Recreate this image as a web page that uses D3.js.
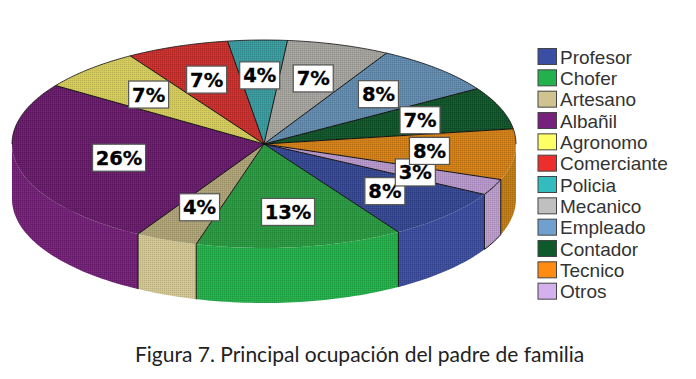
<!DOCTYPE html>
<html>
<head>
<meta charset="utf-8">
<script src="https://cdn.jsdelivr.net/npm/d3@7"></script>
<style>
  html, body { margin: 0; padding: 0; background: #fff; }
  svg { display: block; }
</style>
</head>
<body>
<div id="chart"></div>
<script>
// values, shares of the total
const categories = ["Profesor", "Chofer", "Artesano", "Albañil", "Agronomo", "Comerciante",
  "Policia", "Mecanico", "Empleado", "Contador", "Tecnico", "Otros"];
const shares = [8.0, 13.3, 4.0, 26.2, 6.6, 6.6, 3.8, 6.6, 8.0, 6.6, 7.9, 2.5];
const topColors = ["#33458f", "#27963f", "#ab9f74", "#651a68", "#d2c85a", "#c52d2b",
  "#37989b", "#a3a19b", "#6088ab", "#0f5228", "#cf7d14", "#b595c9"];
const wallColors = ["#3a4b9c", "#22ac48", "#cfc48f", "#711f75", "#e8e060", "#e03030",
  "#3ab0b4", "#bbb", "#6fa0d0", "#0f5a2a", "#bd7a14", "#b89ac8"];
const legendColors = ["#3a4ea4", "#22b14c", "#cfc48f", "#76217c", "#ffff66", "#ee2d2d",
  "#33bcc0", "#c0c0c0", "#6fa0d0", "#0f5a2a", "#ff8c10", "#d4b0ee"];
const caption = "Figura 7. Principal ocupación del padre de familia";

const width = 696, height = 379;
const cx = 264, cy = 144, rx = 252, ry = 104, depth = 55;
const startDeg = 119;
const TAU = 2 * Math.PI;

const svg = d3.select("#chart").append("svg")
  .attr("width", width)
  .attr("height", height)
  .attr("viewBox", `0 0 ${width} ${height}`);

// grain of the old 256 colour export
const grain = svg.append("defs").append("pattern")
  .attr("id", "grain")
  .attr("patternUnits", "userSpaceOnUse")
  .attr("width", 2)
  .attr("height", 2)
  .attr("shape-rendering", "crispEdges");
grain.append("rect").attr("width", 1).attr("height", 1).attr("fill", "#000").attr("opacity", 0.11);
grain.append("rect").attr("x", 1).attr("y", 1).attr("width", 1).attr("height", 1).attr("fill", "#fff").attr("opacity", 0.08);

const pie = d3.pie().sort(null)
  .startAngle(startDeg * Math.PI / 180)
  .endAngle((startDeg + 360) * Math.PI / 180);

const slices = pie(shares).map((d, i) => ({ ...d, i, name: categories[i] }));

const ex = a => cx + rx * Math.sin(a);
const ey = a => cy - ry * Math.cos(a);
const line = d3.line();

// Outer rim from angle s to e as a list of points
function rim(s, e, dy = 0) {
  const n = Math.max(1, Math.ceil((e - s) * 40));
  return d3.range(n + 1).map(k => {
    const a = s + (e - s) * k / n;
    return [ex(a), ey(a) + dy];
  });
}

// Part of a slice on the front half of the ellipse, null when it has none
function frontSpan(d) {
  let a0 = d.startAngle, a1 = d.endAngle;
  if (a0 >= TAU) { a0 -= TAU; a1 -= TAU; }
  const s = Math.max(a0, Math.PI / 2), e = Math.min(a1, 3 * Math.PI / 2);
  return e > s ? [s, e] : null;
}

function wallPath(d) {
  const span = frontSpan(d);
  if (!span) return null;
  return line(rim(span[0], span[1]).concat(rim(span[0], span[1], depth).reverse())) + "Z";
}

function topPath(d) {
  return line([[cx, cy]].concat(rim(d.startAngle, d.endAngle))) + "Z";
}

const pieGroup = svg.append("g");

pieGroup.append("g").selectAll("path").data(slices).join("path")
  .attr("d", wallPath)
  .attr("fill", d => wallColors[d.i]);

pieGroup.append("g").selectAll("path").data(slices).join("path")
  .attr("d", topPath)
  .attr("fill", d => topColors[d.i]);

// one grain layer over walls and tops
pieGroup.append("g").attr("fill", "url(#grain)")
  .selectAll("path").data(slices).join("path")
  .attr("d", d => topPath(d) + (wallPath(d) || ""));

// Dark lines: radial edges, back rim, front uprights
const outlines = pieGroup.append("g")
  .attr("fill", "none")
  .attr("stroke", "#111")
  .attr("stroke-width", 1);

outlines.selectAll("path.edge")
  .data(slices)
  .join("path")
  .attr("class", "edge")
  .attr("d", d => line([[cx, cy], [ex(d.startAngle), ey(d.startAngle)]]));

outlines.append("path")
  .attr("d", line(rim(-Math.PI / 2, Math.PI / 2)))
  .attr("stroke-width", 0.8);

outlines.selectAll("path.upright")
  .data(slices.filter(d => Math.cos(d.startAngle) < 0))
  .join("path")
  .attr("class", "upright")
  .attr("d", d => line([[ex(d.startAngle), ey(d.startAngle)], [ex(d.startAngle), ey(d.startAngle) + depth]]));

// the small Otros slice keeps its rim drawn, top and bottom
const otros = slices.find(d => d.name === "Otros");
const otrosSpan = frontSpan(otros);
outlines.append("path").attr("d", line(rim(otrosSpan[0], otrosSpan[1])));
outlines.append("path").attr("d", line(rim(otrosSpan[0], otrosSpan[1], depth)));

// Percent labels
const labelFactor = d => d.name === "Albañil" ? 0.59 : 0.66;
const labels = svg.append("g").selectAll("g")
  .data(slices)
  .join("g")
  .attr("transform", d => {
    const a = (d.startAngle + d.endAngle) / 2, f = labelFactor(d);
    return `translate(${cx + rx * f * Math.sin(a)},${cy - ry * f * Math.cos(a)})`;
  });

labels.append("rect")
  .attr("x", d => d.data >= 10 ? -26.5 : -20)
  .attr("y", -13.5)
  .attr("width", d => d.data >= 10 ? 53 : 40)
  .attr("height", 27)
  .attr("fill", "#fff")
  .attr("stroke", "#555")
  .attr("stroke-width", 1.2);

labels.append("text")
  .attr("text-anchor", "middle")
  .attr("y", 7)
  .attr("font-family", "DejaVu Sans")
  .attr("font-weight", "bold")
  .attr("font-size", 19.5)
  .attr("fill", "#000")
  .attr("stroke", "#000")
  .attr("stroke-width", 0.3)
  .text(d => Math.round(d.data) + "%");

labels.filter(d => d.name === "Tecnico").raise();

// Legend
const legendY = d3.scaleBand()
  .domain(categories)
  .range([46.5, 302.5]);

const legend = svg.append("g").selectAll("g")
  .data(categories)
  .join("g")
  .attr("transform", d => `translate(538,${legendY(d)})`);

legend.append("rect")
  .attr("y", 2)
  .attr("width", 18.5)
  .attr("height", 16)
  .attr("fill", (d, i) => legendColors[i])
  .attr("stroke", "#444")
  .attr("stroke-width", 1);

legend.append("text")
  .attr("x", 22)
  .attr("y", 17)
  .attr("font-family", "Liberation Sans")
  .attr("font-size", 19)
  .attr("fill", "#333")
  .text(d => d);

// Caption
svg.append("text")
  .attr("x", 135)
  .attr("y", 362)
  .attr("font-family", "Lato")
  .attr("font-size", 21)
  .attr("fill", "#222")
  .text(caption);
</script>
</body>
</html>
